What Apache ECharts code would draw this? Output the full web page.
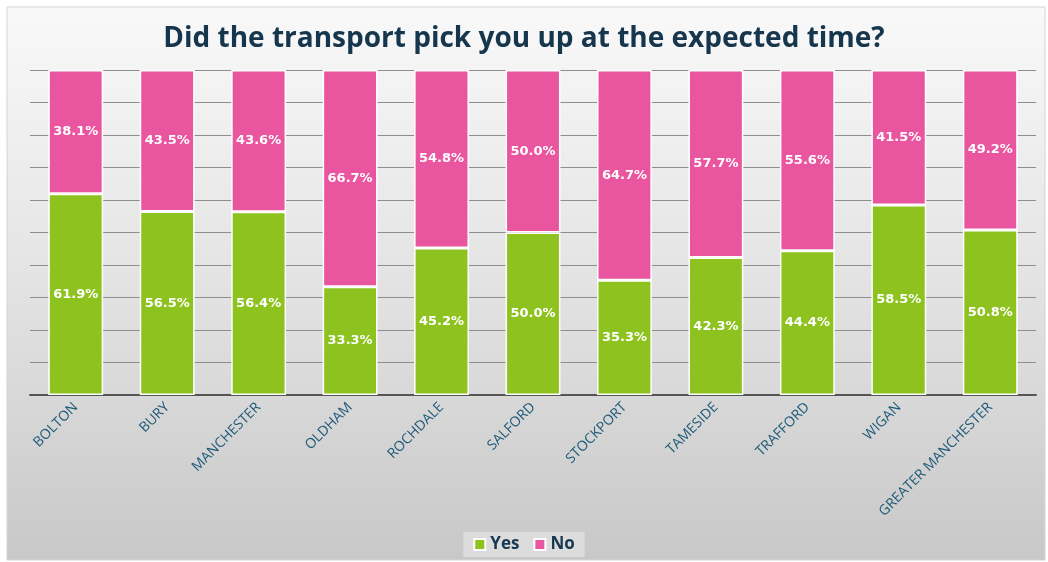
<!DOCTYPE html>
<html>
<head>
<meta charset="utf-8">
<script src="https://cdn.jsdelivr.net/npm/echarts@6/dist/echarts.min.js"></script>
<style>
  html, body { margin: 0; padding: 0; background: #fff; }
  #chart { width: 1048px; height: 562px; }
</style>
</head>
<body>
<div id="chart"></div>
<script>
// values (percent)
var categories = ['BOLTON', 'BURY', 'MANCHESTER', 'OLDHAM', 'ROCHDALE', 'SALFORD',
  'STOCKPORT', 'TAMESIDE', 'TRAFFORD', 'WIGAN', 'GREATER MANCHESTER'];
var yesValues = [61.9, 56.5, 56.4, 33.3, 45.2, 50.0, 35.3, 42.3, 44.4, 58.5, 50.8];
var noValues = [38.1, 43.5, 43.6, 66.7, 54.8, 50.0, 64.7, 57.7, 55.6, 41.5, 49.2];

var chart = echarts.init(document.getElementById('chart'));

var barLabel = {
  show: true,
  position: 'inside',
  color: '#fff',
  fontFamily: 'DejaVu Sans',
  fontWeight: 'bold',
  fontSize: 13,
  formatter: function (p) { return p.value.toFixed(1) + '%'; }
};

var option = {
  backgroundColor: '#fff',
  graphic: [{
    type: 'rect',
    z: -10,
    shape: { x: 7, y: 7, width: 1038, height: 553 },
    style: {
      fill: new echarts.graphic.LinearGradient(0, 0, 0, 1, [
        { offset: 0, color: '#f9f9f9' },
        { offset: 0.5, color: '#e3e3e3' },
        { offset: 1, color: '#c8c8c8' }
      ]),
      stroke: '#d4d4d4',
      lineWidth: 1
    }
  }],
  title: {
    text: 'Did the transport pick you up at the expected time?',
    left: 'center',
    top: 20,
    textStyle: {
      fontFamily: 'Open Sans',
      fontWeight: 'bold',
      fontSize: 28,
      color: '#15364d'
    }
  },
  // Setup grid
  grid: { left: 30, right: 12, top: 70, bottom: 167 },
  legend: {
    bottom: 5,
    left: 'center',
    data: ['Yes', 'No'],
    icon: 'rect',
    itemWidth: 11,
    itemHeight: 11,
    itemGap: 14,
    padding: [4, 10],
    backgroundColor: '#dcdcdc',
    textStyle: {
      fontFamily: 'Open Sans',
      fontWeight: 'bold',
      fontSize: 17,
      color: '#17384f'
    }
  },
  xAxis: {
    type: 'category',
    data: categories,
    axisLine: { lineStyle: { color: '#555', width: 2 } },
    axisTick: { show: false },
    axisLabel: {
      rotate: 45,
      interval: 0,
      margin: 10,
      color: '#1d5a78',
      fontFamily: 'Open Sans',
      fontSize: 14
    }
  },
  yAxis: {
    type: 'value',
    min: 0,
    max: 100,
    interval: 10,
    axisLabel: { show: false },
    axisLine: { show: false },
    axisTick: { show: false },
    splitLine: { lineStyle: { color: '#8e8e8e', width: 1 } }
  },
  series: [
    {
      name: 'Yes',
      type: 'bar',
      stack: 'total',
      barWidth: '60%',
      data: yesValues,
      itemStyle: { color: '#8dc21f', borderColor: '#fff', borderWidth: 1.5 },
      label: barLabel
    },
    {
      name: 'No',
      type: 'bar',
      stack: 'total',
      barWidth: '60%',
      data: noValues,
      itemStyle: { color: '#e9559f', borderColor: '#fff', borderWidth: 1.5 },
      label: barLabel
    }
  ]
};
chart.setOption(option);
</script>
</body>
</html>
